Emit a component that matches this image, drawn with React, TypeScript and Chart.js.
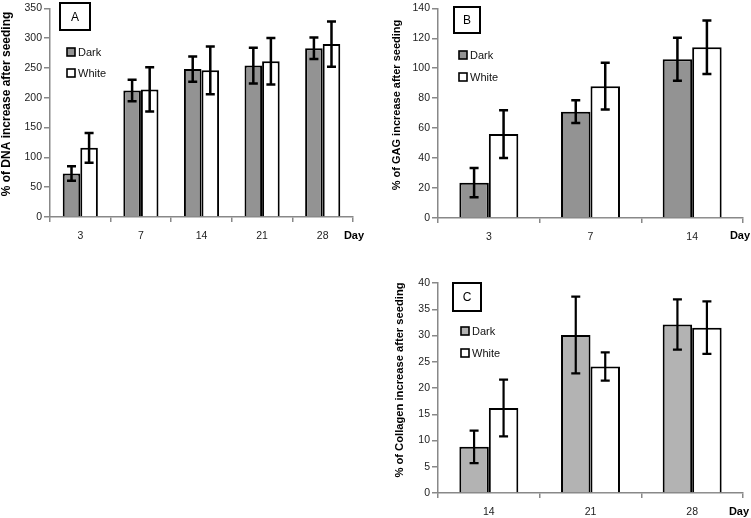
import { useEffect, useRef } from "react";
import { Chart, registerables } from "chart.js";

Chart.register(...registerables);

// ---------- Data ----------
const daysA = ["3", "7", "14", "21", "28"];
const dnaDark = [73, 212, 248, 254, 283];
const dnaDarkErr = [12, 18, 21, 30, 18];
const dnaWhite = [116, 214, 246, 261, 290];
const dnaWhiteErr = [25, 37, 40, 39, 38];

const daysB = ["3", "7", "14"];
const gagDark = [23.6, 71, 106];
const gagDarkErr = [9.7, 7.6, 14.4];
const gagWhite = [56, 88, 114];
const gagWhiteErr = [16, 15.6, 17.8];

const daysC = ["14", "21", "28"];
const colDark = [8.8, 30.1, 32.1];
const colDarkErr = [3.1, 7.3, 4.8];
const colWhite = [16.2, 24.1, 31.5];
const colWhiteErr = [5.4, 2.7, 5.0];

const seriesNames = ["Dark", "White"];
const FONT = "'Liberation Sans', Arial, sans-serif";

// ---------- Plugins ----------
const errorBarPlugin = {
  id: "errorBars",
  afterDatasetsDraw(chart: any, _args: any, opts: any) {
    const ctx = chart.ctx;
    const yScale = chart.scales.y;
    ctx.save();
    ctx.strokeStyle = "#000";
    ctx.lineWidth = opts.lineWidth || 2.5;
    chart.data.datasets.forEach((ds: any, di: number) => {
      const meta = chart.getDatasetMeta(di);
      meta.data.forEach((bar: any, i: number) => {
        const v = ds.data[i];
        const e = ds.errors[i];
        const x = bar.x;
        const yt = yScale.getPixelForValue(v + e);
        const yb = yScale.getPixelForValue(v - e);
        const cap = 4.5;
        ctx.beginPath();
        ctx.moveTo(x, yt);
        ctx.lineTo(x, yb);
        ctx.moveTo(x - cap, yt);
        ctx.lineTo(x + cap, yt);
        ctx.moveTo(x - cap, yb);
        ctx.lineTo(x + cap, yb);
        ctx.stroke();
      });
    });
    ctx.restore();
  },
};

const panelPlugin = {
  id: "panel",
  afterDraw(chart: any, _args: any, opts: any) {
    const ctx = chart.ctx;
    ctx.save();
    // letter box
    const b = opts.box;
    ctx.strokeStyle = "#000";
    ctx.lineWidth = 2;
    ctx.strokeRect(b[0], b[1], b[2], b[3]);
    ctx.fillStyle = "#000";
    ctx.font = `12px ${FONT}`;
    ctx.textAlign = "center";
    ctx.textBaseline = "middle";
    ctx.fillText(opts.letter, b[0] + b[2] / 2, b[1] + b[3] / 2 + 1);
    // legend
    chart.data.datasets.forEach((ds: any, i: number) => {
      const x = opts.legend[0];
      const y = opts.legend[1] + i * opts.legendGap;
      const s = 8;
      ctx.fillStyle = ds.backgroundColor;
      ctx.fillRect(x, y - s / 2, s, s);
      ctx.lineWidth = 1.6;
      ctx.strokeStyle = "#000";
      ctx.strokeRect(x, y - s / 2, s, s);
      ctx.fillStyle = "#111";
      ctx.font = `11px ${FONT}`;
      ctx.textAlign = "left";
      ctx.textBaseline = "middle";
      ctx.fillText(ds.label, x + s + 3, y + 1);
    });
    // Day label
    ctx.font = `bold 11px ${FONT}`;
    ctx.textAlign = "center";
    ctx.fillStyle = "#000";
    ctx.fillText("Day", opts.day[0], opts.day[1]);
    // y title
    ctx.translate(opts.yTitle[0], opts.yTitle[1]);
    ctx.rotate(-Math.PI / 2);
    ctx.font = `bold ${opts.yTitleSize}px ${FONT}`;
    ctx.textAlign = "center";
    ctx.textBaseline = "middle";
    ctx.fillText(opts.yTitleText, 0, 0);
    ctx.restore();
  },
};

// ---------- Panel component ----------
type PanelProps = {
  left: number;
  top: number;
  width: number;
  height: number;
  labels: string[];
  dark: number[];
  darkErr: number[];
  white: number[];
  whiteErr: number[];
  darkColor: string;
  yMax: number;
  yStep: number;
  area: { left: number; right: number; top: number; bottom: number };
  letter: string;
  box: number[];
  legend: number[];
  legendGap: number;
  day: number[];
  yTitle: number[];
  yTitleText: string;
  yTitleSize: number;
  errWidth: number;
};

function Panel(p: PanelProps) {
  const ref = useRef<HTMLCanvasElement>(null);
  useEffect(() => {
    if (!ref.current) return;
    const chart = new Chart(ref.current, {
      type: "bar",
      data: {
        labels: p.labels,
        datasets: [
          {
            label: seriesNames[0],
            data: p.dark,
            errors: p.darkErr,
            backgroundColor: p.darkColor,
            borderColor: "#000",
            borderWidth: 2,
          } as any,
          {
            label: seriesNames[1],
            data: p.white,
            errors: p.whiteErr,
            backgroundColor: "#ffffff",
            borderColor: "#000",
            borderWidth: 2,
          } as any,
        ],
      },
      options: {
        responsive: false,
        animation: false,
        devicePixelRatio: 1,
        layout: {
          padding: {
            left: 0,
            top: p.area.top,
            right: p.width - p.area.right,
            bottom: 0,
          },
        },
        datasets: {
          bar: { categoryPercentage: 0.58, barPercentage: 1.0 },
        },
        plugins: {
          legend: { display: false },
          tooltip: { enabled: false },
          errorBars: { lineWidth: p.errWidth },
          panel: {
            letter: p.letter,
            box: p.box,
            legend: p.legend,
            legendGap: p.legendGap,
            day: p.day,
            yTitle: p.yTitle,
            yTitleText: p.yTitleText,
            yTitleSize: p.yTitleSize,
          },
        } as any,
        scales: {
          x: {
            afterFit: (s: any) => {
              s.height = p.height - p.area.bottom;
            },
            grid: {
              offset: true,
              drawOnChartArea: false,
              drawTicks: true,
              tickLength: 5,
              color: "#888",
              lineWidth: 1.5,
            },
            border: { color: "#888", width: 1.5 },
            ticks: {
              padding: 8,
              color: "#222",
              font: { family: FONT, size: 10.5 },
            },
          },
          y: {
            min: 0,
            max: p.yMax,
            afterFit: (s: any) => {
              s.width = p.area.left;
            },
            grid: {
              drawOnChartArea: false,
              drawTicks: true,
              tickLength: 6,
              color: "#888",
              lineWidth: 1.5,
            },
            border: { color: "#888", width: 1.5 },
            ticks: {
              stepSize: p.yStep,
              padding: 2,
              color: "#222",
              font: { family: FONT, size: 10.5 },
            },
          },
        },
      },
      plugins: [errorBarPlugin, panelPlugin],
    });
    return () => chart.destroy();
  }, []);
  return (
    <canvas
      ref={ref}
      width={p.width}
      height={p.height}
      style={{
        position: "absolute",
        left: p.left,
        top: p.top,
        width: p.width,
        height: p.height,
      }}
    />
  );
}

export default function App() {
  return (
    <div
      style={{
        position: "fixed",
        left: 0,
        top: 0,
        width: 751,
        height: 518,
        background: "#fff",
        overflow: "hidden",
      }}
    >
      <Panel
        left={0}
        top={0}
        width={375}
        height={250}
        labels={daysA}
        dark={dnaDark}
        darkErr={dnaDarkErr}
        white={dnaWhite}
        whiteErr={dnaWhiteErr}
        darkColor="#939393"
        yMax={350}
        yStep={50}
        area={{ left: 50, right: 353, top: 5, bottom: 217 }}
        letter="A"
        box={[60, 3, 30, 27]}
        legend={[67, 52]}
        legendGap={21}
        day={[354, 236]}
        yTitle={[7, 104]}
        yTitleText="% of DNA increase after seeding"
        yTitleSize={12}
        errWidth={2.5}
      />
      <Panel
        left={375}
        top={0}
        width={376}
        height={250}
        labels={daysB}
        dark={gagDark}
        darkErr={gagDarkErr}
        white={gagWhite}
        whiteErr={gagWhiteErr}
        darkColor="#939393"
        yMax={140}
        yStep={20}
        area={{ left: 63, right: 368, top: 5, bottom: 218 }}
        letter="B"
        box={[79, 7, 26, 26]}
        legend={[84, 55]}
        legendGap={22}
        day={[365, 236]}
        yTitle={[22, 105]}
        yTitleText="% of GAG increase after seeding"
        yTitleSize={11}
        errWidth={2.5}
      />
      <Panel
        left={375}
        top={250}
        width={376}
        height={268}
        labels={daysC}
        dark={colDark}
        darkErr={colDarkErr}
        white={colWhite}
        whiteErr={colWhiteErr}
        darkColor="#b3b3b3"
        yMax={40}
        yStep={5}
        area={{ left: 63, right: 368, top: 33, bottom: 243 }}
        letter="C"
        box={[78, 33, 28, 28]}
        legend={[86, 81]}
        legendGap={22}
        day={[364, 262]}
        yTitle={[25, 130]}
        yTitleText="% of Collagen increase after seeding"
        yTitleSize={11.2}
        errWidth={2.2}
      />
    </div>
  );
}
